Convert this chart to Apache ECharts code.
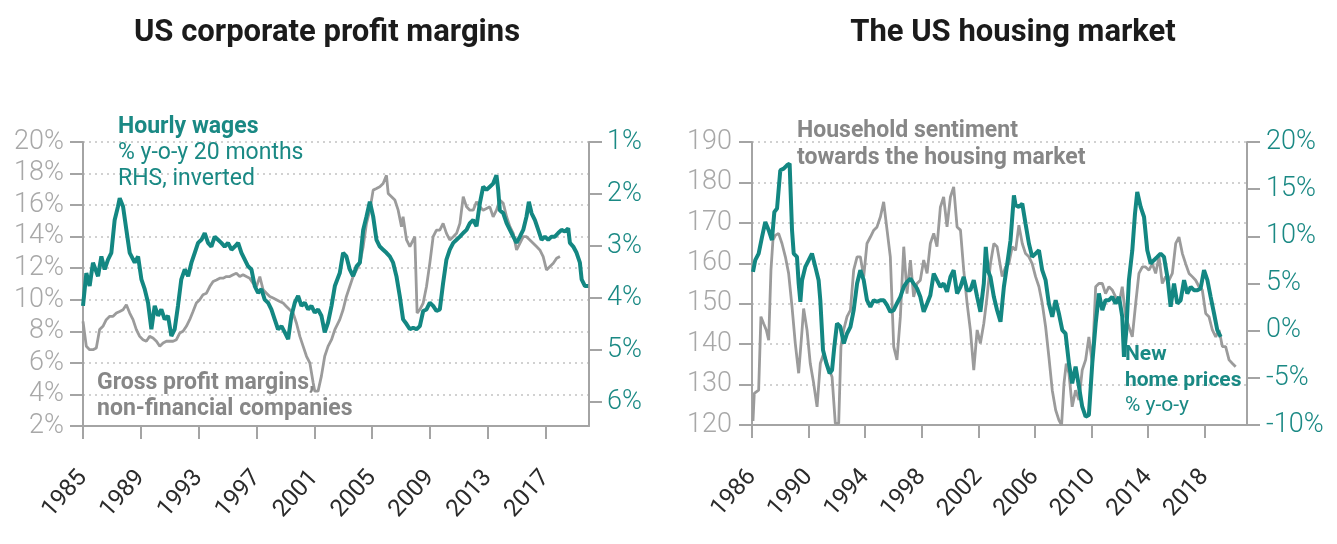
<!DOCTYPE html>
<html><head><meta charset="utf-8">
<script src="https://cdn.jsdelivr.net/npm/echarts@6/dist/echarts.min.js"></script>
<style>html,body{margin:0;padding:0;background:#fff}#c{width:1337px;height:544px}</style>
</head><body><div id="c"></div>
<script>
// ---------- Left chart: US corporate profit margins ----------
const leftTitle = 'US corporate profit margins';
const leftXTicks = [1985, 1989, 1993, 1997, 2001, 2005, 2009, 2013, 2017];
const leftYTicks = [2, 4, 6, 8, 10, 12, 14, 16, 18, 20];
const wageTicks = [1, 2, 3, 4, 5, 6];

// Gross profit margins, non-financial companies (%, LHS)
const marginYears = [1985.00,1985.23,1985.46,1985.69,1985.92,1986.15,1986.38,1986.61,1986.85,1987.08,1987.31,1987.54,1987.77,1988.00,1988.23,1988.46,1988.69,1988.92,1989.15,1989.38,1989.61,1989.84,1990.08,1990.31,1990.54,1990.77,1991.00,1991.23,1991.46,1991.69,1991.92,1992.15,1992.38,1992.61,1992.84,1993.07,1993.30,1993.54,1993.77,1994.00,1994.23,1994.46,1994.69,1994.92,1995.15,1995.38,1995.61,1995.84,1996.07,1996.30,1996.53,1996.76,1997.00,1997.23,1997.46,1997.69,1997.92,1998.15,1998.38,1998.61,1998.84,1999.07,1999.30,1999.53,1999.76,2000.00,2000.23,2000.46,2000.69,2000.92,2001.03,2001.26,2001.49,2001.72,2001.95,2002.19,2002.42,2002.76,2002.99,2003.22,2003.45,2003.68,2003.92,2004.15,2004.38,2004.61,2004.84,2005.07,2005.30,2005.53,2005.76,2005.99,2006.11,2006.34,2006.57,2006.80,2007.03,2007.14,2007.38,2007.61,2007.84,2007.95,2008.11,2008.30,2008.53,2008.76,2008.99,2009.22,2009.45,2009.68,2009.91,2010.14,2010.37,2010.61,2010.84,2011.07,2011.30,2011.53,2011.76,2011.99,2012.22,2012.45,2012.68,2012.91,2013.14,2013.37,2013.60,2013.83,2014.07,2014.30,2014.53,2014.76,2014.99,2015.22,2015.45,2015.68,2015.91,2016.14,2016.37,2016.60,2016.83,2017.06,2017.30,2017.53,2017.76,2017.99];
const marginVals = [8.63,7.05,6.84,6.84,6.95,8.11,8.32,8.74,8.95,8.95,9.16,9.26,9.37,9.68,9.16,8.74,8.11,7.68,7.47,7.37,7.68,7.58,7.37,7.05,7.26,7.37,7.37,7.37,7.47,7.89,8.00,8.32,8.74,9.26,9.79,10.00,10.32,10.42,10.84,11.16,11.26,11.37,11.37,11.47,11.47,11.58,11.68,11.47,11.58,11.47,11.37,11.05,10.84,11.47,10.63,10.42,10.21,10.11,10.00,9.89,9.79,9.58,9.37,9.16,8.53,7.68,7.05,6.42,6.00,4.74,4.21,4.21,5.16,6.42,7.05,7.47,8.11,8.74,9.37,10.21,10.84,11.47,11.89,12.32,13.37,14.84,15.68,16.95,17.05,17.16,17.37,17.89,16.74,16.53,16.32,15.68,14.63,15.26,13.79,13.37,13.79,14.00,9.16,9.37,9.79,10.84,12.32,14.00,14.42,14.42,14.84,14.21,13.79,14.00,14.21,14.84,16.53,15.89,15.68,15.68,16.21,15.89,15.68,15.79,15.89,15.26,15.68,16.32,16.11,15.26,14.63,14.21,13.16,13.58,14.00,14.00,13.79,13.58,13.37,13.16,12.74,11.89,12.11,12.32,12.63,12.74];

// Hourly wages, % y-o-y, 20 months lead (RHS, inverted)
const wageYears = [1985.00,1985.23,1985.46,1985.69,1986.04,1986.27,1986.50,1986.73,1986.96,1987.19,1987.42,1987.54,1987.77,1988.00,1988.23,1988.58,1988.81,1989.04,1989.27,1989.50,1989.73,1989.96,1990.19,1990.42,1990.65,1990.88,1991.11,1991.34,1991.57,1991.80,1992.04,1992.27,1992.50,1992.73,1992.96,1993.19,1993.42,1993.65,1993.88,1994.11,1994.34,1994.57,1994.80,1995.03,1995.27,1995.50,1995.73,1995.96,1996.19,1996.42,1996.65,1996.88,1997.11,1997.34,1997.57,1997.80,1998.03,1998.26,1998.49,1998.73,1998.96,1999.19,1999.42,1999.65,1999.88,2000.11,2000.34,2000.57,2000.80,2001.03,2001.26,2001.49,2001.72,2001.95,2002.19,2002.42,2002.76,2002.99,2003.22,2003.45,2003.68,2003.92,2004.15,2004.38,2004.61,2004.84,2005.07,2005.30,2005.53,2005.76,2005.99,2006.22,2006.45,2006.68,2006.91,2007.14,2007.38,2007.61,2007.84,2008.07,2008.30,2008.53,2008.76,2008.99,2009.22,2009.45,2009.68,2009.91,2010.14,2010.37,2010.61,2010.84,2011.07,2011.30,2011.53,2011.76,2011.99,2012.22,2012.45,2012.68,2012.91,2013.14,2013.37,2013.60,2013.72,2013.83,2014.07,2014.30,2014.53,2014.76,2014.99,2015.22,2015.45,2015.68,2015.84,2016.03,2016.26,2016.49,2016.72,2016.95,2017.18,2017.41,2017.64,2017.87,2018.10,2018.33,2018.56,2018.68,2018.91,2019.14,2019.37,2019.49,2019.72,2019.95];
const wageVals = [4.15,3.52,3.77,3.32,3.58,3.20,3.45,3.26,3.13,2.50,2.24,2.08,2.24,2.69,3.13,3.32,3.20,3.64,3.83,4.09,4.60,4.15,4.34,4.22,4.41,4.34,4.73,4.60,4.15,3.64,3.45,3.58,3.32,3.13,2.94,2.88,2.75,2.94,3.01,2.82,2.88,2.94,3.01,2.94,3.07,3.01,2.94,3.13,3.26,3.39,3.45,3.77,3.90,3.83,4.03,4.09,4.22,4.41,4.60,4.54,4.66,4.79,4.34,4.09,3.96,4.15,4.09,4.22,4.15,4.28,4.22,4.34,4.66,4.47,4.15,3.77,3.52,3.13,3.20,3.45,3.58,3.39,3.32,2.69,2.43,2.15,2.43,2.88,3.01,3.07,3.13,3.20,3.32,3.58,3.96,4.41,4.50,4.60,4.57,4.60,4.54,4.25,4.22,4.09,4.15,4.25,4.22,3.71,3.26,3.07,2.94,2.88,2.82,2.75,2.69,2.56,2.50,2.62,2.18,1.86,1.92,1.86,1.80,1.64,1.92,2.31,2.37,2.56,2.69,2.82,2.94,2.82,2.69,2.43,2.15,2.37,2.50,2.69,2.88,2.82,2.88,2.82,2.82,2.75,2.69,2.72,2.66,2.94,3.01,3.13,3.32,3.64,3.77,3.77];

// ---------- Right chart: The US housing market ----------
const rightTitle = 'The US housing market';
const rightXTicks = [1986, 1990, 1994, 1998, 2002, 2006, 2010, 2014, 2018];
const sentTicks = [120, 130, 140, 150, 160, 170, 180, 190];
const priceTicks = [-10, -5, 0, 5, 10, 15, 20];

// Household sentiment towards the housing market (index, LHS)
const sentYears = [1986.07,1986.16,1986.47,1986.63,1986.82,1987.01,1987.18,1987.34,1987.48,1987.65,1987.88,1988.12,1988.36,1988.59,1988.83,1989.06,1989.30,1989.54,1989.65,1989.89,1990.12,1990.36,1990.60,1990.83,1991.07,1991.30,1991.66,1991.89,1992.13,1992.29,1992.48,1992.72,1992.96,1993.19,1993.43,1993.66,1993.90,1994.13,1994.37,1994.61,1994.84,1995.08,1995.31,1995.55,1995.78,1996.02,1996.25,1996.49,1996.73,1996.96,1997.20,1997.43,1997.67,1997.90,1998.14,1998.38,1998.61,1998.85,1999.08,1999.32,1999.55,1999.79,2000.03,2000.26,2000.50,2000.74,2000.97,2001.21,2001.44,2001.68,2001.92,2002.15,2002.39,2002.62,2002.86,2003.10,2003.33,2003.46,2003.69,2003.93,2004.16,2004.40,2004.64,2004.87,2005.11,2005.34,2005.58,2005.81,2006.05,2006.29,2006.52,2006.76,2006.99,2007.23,2007.47,2007.70,2007.89,2008.06,2008.22,2008.41,2008.64,2008.88,2009.12,2009.35,2009.59,2009.82,2010.06,2010.30,2010.53,2010.77,2011.00,2011.24,2011.47,2011.71,2011.95,2012.18,2012.42,2012.65,2012.89,2013.13,2013.36,2013.60,2013.83,2014.07,2014.31,2014.54,2014.78,2015.01,2015.25,2015.48,2015.72,2015.96,2016.19,2016.43,2016.66,2016.90,2017.13,2017.37,2017.61,2017.84,2018.08,2018.31,2018.55,2018.79,2019.02,2019.26,2019.49,2019.73,2019.97,2020.20];
const sentVals = [121.0,127.8,128.6,146.8,145.1,143.5,141.0,158.3,165.7,166.9,167.4,164.9,161.6,157.5,149.2,140.2,132.8,143.5,148.8,143.5,135.2,130.3,124.5,135.2,137.7,135.2,131.9,120.4,120.4,139.4,143.5,146.8,148.4,158.3,161.6,161.6,156.7,164.9,166.5,168.2,169.0,171.5,175.2,168.2,161.6,139.4,136.1,146.8,164.1,152.5,160.8,151.7,155.0,155.8,160.8,157.5,164.9,167.4,164.1,173.9,176.4,169.0,176.4,178.9,169.0,168.2,158.3,150.1,143.5,133.6,143.5,140.2,145.1,151.7,159.9,164.9,164.1,164.1,156.7,159.1,159.9,164.1,163.2,169.4,164.9,162.4,161.6,159.9,156.7,154.2,150.1,144.3,136.9,128.6,123.7,121.2,120.0,130.3,135.2,132.8,124.5,128.6,126.2,133.6,136.1,141.8,135.2,154.2,155.0,155.0,152.5,154.2,153.4,151.7,150.1,154.2,146.8,144.3,141.8,150.1,157.5,159.1,159.1,158.3,159.9,157.5,161.6,155.0,156.7,155.8,157.5,164.9,166.5,162.4,159.9,157.5,156.7,155.8,154.2,153.4,147.6,146.8,143.5,141.8,143.5,139.4,139.4,136.1,135.2,134.4];

// New home prices, % y-o-y (RHS)
const homeYears = [1986.07,1986.23,1986.47,1986.71,1986.94,1987.18,1987.41,1987.58,1987.77,1988.00,1988.24,1988.47,1988.66,1988.83,1988.95,1989.18,1989.30,1989.42,1989.54,1989.77,1990.01,1990.24,1990.48,1990.71,1990.83,1991.02,1991.26,1991.49,1991.66,1991.82,1992.01,1992.25,1992.49,1992.72,1992.96,1993.19,1993.43,1993.66,1993.90,1994.13,1994.37,1994.61,1994.84,1995.08,1995.31,1995.55,1995.78,1996.02,1996.25,1996.49,1996.73,1996.96,1997.20,1997.43,1997.67,1997.90,1998.14,1998.38,1998.61,1998.85,1999.08,1999.32,1999.55,1999.79,2000.03,2000.26,2000.50,2000.74,2000.97,2001.21,2001.44,2001.68,2001.92,2002.15,2002.39,2002.53,2002.67,2002.86,2003.10,2003.33,2003.57,2003.81,2004.05,2004.28,2004.52,2004.64,2004.87,2005.11,2005.34,2005.58,2005.81,2006.05,2006.29,2006.52,2006.76,2006.99,2007.23,2007.47,2007.70,2007.94,2008.17,2008.41,2008.64,2008.88,2009.12,2009.35,2009.59,2009.82,2010.06,2010.30,2010.53,2010.77,2011.00,2011.24,2011.47,2011.71,2011.95,2012.18,2012.30,2012.47,2012.65,2012.89,2013.08,2013.24,2013.48,2013.72,2013.95,2014.19,2014.42,2014.66,2014.89,2015.13,2015.37,2015.60,2015.84,2016.07,2016.31,2016.55,2016.78,2017.02,2017.25,2017.49,2017.72,2017.96,2018.20,2018.43,2018.67,2018.90,2019.14];
const homeVals = [6.23,7.47,8.17,9.94,11.53,10.65,9.59,12.59,12.94,17.00,17.18,17.53,17.71,10.65,8.17,7.82,5.00,3.06,5.35,6.76,7.47,8.17,6.76,5.35,3.23,-2.06,-3.47,-4.53,-4.18,-1.70,0.76,0.41,-1.36,-0.30,0.41,2.17,5.00,6.41,5.35,3.23,2.53,3.23,3.06,3.23,3.23,2.70,2.00,2.17,2.88,3.59,4.64,5.17,5.52,5.00,4.47,3.59,2.00,2.88,3.76,6.06,5.35,4.64,5.00,4.12,5.70,6.41,3.94,4.64,5.70,4.29,4.29,5.35,3.59,2.00,5.00,8.88,6.41,5.70,3.59,2.17,0.94,4.64,7.11,9.59,14.35,13.29,13.12,13.47,11.35,9.24,7.82,8.17,8.52,6.41,5.35,2.88,1.47,3.23,1.82,0.05,-0.30,-3.47,-5.59,-3.82,-5.94,-8.06,-9.12,-8.94,-3.47,0.76,3.94,2.17,3.23,3.23,3.59,2.88,3.59,1.47,-2.77,0.05,5.35,8.52,12.41,14.71,13.12,12.05,8.52,7.11,7.47,7.82,8.17,7.82,5.70,2.53,5.00,2.88,3.23,5.35,3.94,4.64,4.29,4.29,4.47,6.41,5.35,3.59,1.82,0.05,-0.65];

const zip = (xs, ys) => xs.map((x, i) => [x, ys[i]]);

const TEAL = '#138782';
const TEAL_TXT = '#1a8984';
const GRAY_LINE = '#9b9b9b';
const GRAY_TXT = '#878787';
const AXIS = '#a4a4a4';
const FONT = 'Roboto, "Noto Sans", sans-serif';
const ANN = '23px ' + FONT;
const ANN_B = 'bold 23px ' + FONT;
const ANN_S = '21px ' + FONT;
const ANN_SB = 'bold 21px ' + FONT;

function xAxis(grid, min, max, ticks) {
  return {
    gridIndex: grid, type: 'value', min: min, max: max,
    axisLine: { show: true, onZero: false, lineStyle: { color: AXIS, width: 2 } },
    axisTick: { show: true, length: 13, customValues: ticks, lineStyle: { color: AXIS, width: 2 } },
    axisLabel: { customValues: ticks, rotate: 48, margin: 48, color: '#2b2b2b', fontSize: 24, fontFamily: FONT,
      formatter: v => String(v) },
    splitLine: { show: false }
  };
}

const chart = echarts.init(document.getElementById('c'), null, { renderer: 'canvas' });
chart.setOption({
  animation: false,
  backgroundColor: '#fff',
  grid: [
    { left: 83, top: 142, width: 506, height: 284, outerBoundsMode: 'none' },
    { left: 752, top: 142, width: 495, height: 283, outerBoundsMode: 'none' }
  ],
  xAxis: [
    xAxis(0, 1985, 2020, leftXTicks),
    xAxis(1, 1986, 2021, rightXTicks)
  ],
  yAxis: [
    { gridIndex: 0, type: 'value', position: 'left', min: leftYTicks[0], max: leftYTicks[leftYTicks.length - 1], interval: 2,
      axisLine: { show: true, onZero: false, lineStyle: { color: AXIS, width: 2 } },
      axisTick: { show: true, length: 13, lineStyle: { color: AXIS, width: 2 } },
      axisLabel: { margin: 19, color: '#a8a8a8', fontSize: 27, fontWeight: 300, fontFamily: FONT, formatter: v => v + '%' },
      splitLine: { show: true, lineStyle: { type: [2, 4], color: '#c2c2c2', width: 1.5 } } },
    { gridIndex: 0, type: 'value', position: 'right', min: 1, max: 6.46, inverse: true,
      axisLine: { show: true, onZero: false, lineStyle: { color: AXIS, width: 2 } },
      axisTick: { show: true, length: 13, customValues: wageTicks, lineStyle: { color: AXIS, width: 2 } },
      axisLabel: { customValues: wageTicks, margin: 18, color: TEAL_TXT, fontSize: 27, fontWeight: 300, fontFamily: FONT, formatter: v => v + '%' },
      splitLine: { show: false } },
    { gridIndex: 1, type: 'value', position: 'left', min: sentTicks[0], max: sentTicks[sentTicks.length - 1], interval: 10,
      axisLine: { show: true, onZero: false, lineStyle: { color: AXIS, width: 2 } },
      axisTick: { show: true, length: 13, lineStyle: { color: AXIS, width: 2 } },
      axisLabel: { margin: 20, color: '#a8a8a8', fontSize: 27, fontWeight: 300, fontFamily: FONT },
      splitLine: { show: true, lineStyle: { type: [2, 4], color: '#c2c2c2', width: 1.5 } } },
    { gridIndex: 1, type: 'value', position: 'right', min: priceTicks[0], max: priceTicks[priceTicks.length - 1], interval: 5,
      axisLine: { show: true, onZero: false, lineStyle: { color: AXIS, width: 2 } },
      axisTick: { show: true, length: 13, lineStyle: { color: AXIS, width: 2 } },
      axisLabel: { margin: 19, color: TEAL_TXT, fontSize: 27, fontWeight: 300, fontFamily: FONT, formatter: v => v + '%' },
      splitLine: { show: false } }
  ],
  series: [
    { type: 'line', xAxisIndex: 0, yAxisIndex: 0, data: zip(marginYears, marginVals), symbol: 'none',
      lineStyle: { color: GRAY_LINE, width: 2.8 }, z: 2 },
    { type: 'line', xAxisIndex: 0, yAxisIndex: 1, data: zip(wageYears, wageVals), symbol: 'none',
      lineStyle: { color: TEAL, width: 4 }, z: 3 },
    { type: 'line', xAxisIndex: 1, yAxisIndex: 2, data: zip(sentYears, sentVals), symbol: 'none',
      lineStyle: { color: GRAY_LINE, width: 2.8 }, z: 2 },
    { type: 'line', xAxisIndex: 1, yAxisIndex: 3, data: zip(homeYears, homeVals), symbol: 'none',
      lineStyle: { color: TEAL, width: 4 }, z: 3 }
  ],
  graphic: [
    { type: 'text', x: 327, y: 33, z: 10, style: { text: leftTitle, fill: '#1b1b1b', font: 'bold 31px ' + FONT, align: 'center', verticalAlign: 'middle' } },
    { type: 'text', x: 1013, y: 33, z: 10, style: { text: rightTitle, fill: '#1b1b1b', font: 'bold 31px ' + FONT, align: 'center', verticalAlign: 'middle' } },
    { type: 'text', x: 118, y: 127, z: 10, style: { text: 'Hourly wages', fill: TEAL_TXT, font: ANN_B, verticalAlign: 'middle' } },
    { type: 'text', x: 118, y: 153, z: 10, style: { text: '% y-o-y 20 months', fill: TEAL_TXT, font: ANN, verticalAlign: 'middle' } },
    { type: 'text', x: 118, y: 179, z: 10, style: { text: 'RHS, inverted', fill: TEAL_TXT, font: ANN, verticalAlign: 'middle' } },
    { type: 'text', x: 97, y: 383, z: 10, style: { text: 'Gross profit margins,', fill: GRAY_TXT, font: ANN_B, verticalAlign: 'middle' } },
    { type: 'text', x: 97, y: 409, z: 10, style: { text: 'non-financial companies', fill: GRAY_TXT, font: ANN_B, verticalAlign: 'middle' } },
    { type: 'text', x: 797, y: 131, z: 10, style: { text: 'Household sentiment', fill: GRAY_TXT, font: ANN_B, verticalAlign: 'middle' } },
    { type: 'text', x: 797, y: 158, z: 10, style: { text: 'towards the housing market', fill: GRAY_TXT, font: ANN_B, verticalAlign: 'middle' } },
    { type: 'text', x: 1125, y: 355, z: 10, style: { text: 'New', fill: TEAL_TXT, font: ANN_SB, verticalAlign: 'middle' } },
    { type: 'text', x: 1125, y: 381, z: 10, style: { text: 'home prices', fill: TEAL_TXT, font: ANN_SB, verticalAlign: 'middle' } },
    { type: 'text', x: 1125, y: 406, z: 10, style: { text: '% y-o-y', fill: TEAL_TXT, font: ANN_S, verticalAlign: 'middle' } }
  ]
});
</script>
</body></html>
